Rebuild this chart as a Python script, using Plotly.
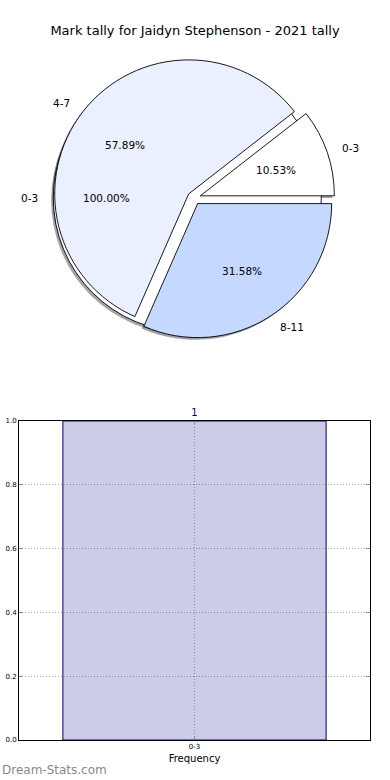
import math
import plotly.graph_objects as go

# ---------------- data ----------------
title_text = "Mark tally for Jaidyn Stephenson - 2021 tally"
total_labels = ["0-3"]
total_values = [1]
pie_labels = ["0-3", "4-7", "8-11"]
pie_values = [2, 11, 6]
pie_colors = ["#FFFFFF", "#EAF0FF", "#C5D9FF"]
total_colors = ["#FFFFFF"]
bar_categories = ["0-3"]
bar_values = [1]
y_ticks = [0.0, 0.2, 0.4, 0.6, 0.8, 1.0]
watermark = "Dream-Stats.com"

# ---------------- layout constants ----------------
W, H = 390, 780
CX, CY = 194, 198      # pie centre (px)
R = 134                # pie radius (px)
PULL = 0.05
SH = 2.2               # shadow offset (px)
FONT = "DejaVu Sans"


def pie_domain(dx=0.0, dy=0.0, pull=PULL):
    half = R * (1 + pull)
    cx, cy = CX + dx, CY + dy
    return dict(x=[(cx - half) / W, (cx + half) / W],
                y=[1 - (cy + half) / H, 1 - (cy - half) / H])


def shade(c):
    c = c.lstrip("#")
    r, g, b = (int(c[i:i + 2], 16) for i in (0, 2, 4))
    return "rgba(%d,%d,%d,0.5)" % (r * 0.3, g * 0.3, b * 0.3)


def start_rotation(values):
    # plotly: with counterclockwise direction the first slice ends at `rotation`;
    # make the first slice start at 3 o'clock like matplotlib's startangle=0
    rot = 90 - 360.0 * values[0] / sum(values)
    if rot <= -360:
        rot += 360
    return rot


fig = go.Figure()

common = dict(sort=False, direction="counterclockwise",
              textinfo="none", hoverinfo="skip", showlegend=False)

# shadows
fig.add_trace(go.Pie(labels=total_labels, values=total_values,
                     pull=[PULL] * len(total_values), rotation=start_rotation(total_values),
                     marker=dict(colors=[shade(c) for c in total_colors], line=dict(width=0)),
                     domain=pie_domain(-SH, SH), **common))
fig.add_trace(go.Pie(labels=pie_labels, values=pie_values,
                     pull=[PULL] * len(pie_values), rotation=start_rotation(pie_values),
                     marker=dict(colors=[shade(c) for c in pie_colors], line=dict(width=0)),
                     domain=pie_domain(-SH, SH), **common))
# pies
fig.add_trace(go.Pie(labels=total_labels, values=total_values,
                     pull=[PULL] * len(total_values), rotation=start_rotation(total_values),
                     marker=dict(colors=total_colors, line=dict(color="black", width=0.9)),
                     domain=pie_domain(), **common))
fig.add_trace(go.Pie(labels=pie_labels, values=pie_values,
                     pull=[PULL] * len(pie_values), rotation=start_rotation(pie_values),
                     marker=dict(colors=pie_colors, line=dict(color="black", width=0.9)),
                     domain=pie_domain(), **common))

annotations = []


def pie_texts(labels, values):
    tot = float(sum(values))
    start = 0.0
    for lab, v in zip(labels, values):
        frac = v / tot
        mid = math.radians((start + frac / 2) * 360)
        start += frac
        c, s = math.cos(mid), math.sin(mid)
        px = CX + (0.6 + PULL) * R * c
        py = CY - (0.6 + PULL) * R * s
        annotations.append(dict(x=px / W, y=1 - py / H, xref="paper", yref="paper",
                                text="%.2f%%" % (frac * 100), showarrow=False,
                                xanchor="center", yanchor="middle",
                                font=dict(family=FONT, size=10.5, color="black")))
        lx = CX + (1.1 + PULL) * R * c
        ly = CY - (1.1 + PULL) * R * s
        annotations.append(dict(x=lx / W, y=1 - ly / H, xref="paper", yref="paper",
                                text=lab, showarrow=False,
                                xanchor="left" if c > 0 else "right", yanchor="middle",
                                font=dict(family=FONT, size=10.5, color="black")))


pie_texts(total_labels, total_values)
pie_texts(pie_labels, pie_values)

# ---------------- bar chart ----------------
fig.add_trace(go.Bar(x=bar_categories, y=bar_values, width=0.75,
                     marker=dict(color="rgba(0,0,128,0.2)", line=dict(color="#000080", width=1)),
                     text=[str(v) for v in bar_values], textposition="outside",
                     textfont=dict(family=FONT, size=10, color="#000080"),
                     cliponaxis=False, hoverinfo="skip", showlegend=False,
                     xaxis="x", yaxis="y"))

annotations.append(dict(x=0.0, y=1 - 770 / H, xref="paper", yref="paper",
                        text=watermark, showarrow=False, xanchor="left", yanchor="middle",
                        font=dict(family=FONT, size=12, color="#8a8a8a")))

grid = dict(showgrid=True, gridcolor="#a8a8a8", griddash="1px,2px", gridwidth=1)

fig.update_layout(
    width=W, height=H,
    margin=dict(l=0, r=0, t=0, b=0),
    paper_bgcolor="white", plot_bgcolor="white",
    title=dict(text=title_text, x=0.5, xanchor="center", y=1 - 30 / H, yanchor="middle",
               font=dict(family=FONT, size=13, color="black")),
    font=dict(family=FONT, color="black"),
    annotations=annotations,
    xaxis=dict(domain=[19 / W, 370 / W], range=[-0.5, 0.5], type="category",
               showline=True, linecolor="black", linewidth=1, mirror="allticks",
               ticks="inside", ticklen=4, tickcolor="#888888",
               tickfont=dict(family=FONT, size=7, color="black"),
               title=dict(text="Frequency", standoff=4,
                          font=dict(family=FONT, size=10, color="black")),
               automargin=False, fixedrange=True, **grid),
    yaxis=dict(domain=[40 / H, 359 / H], range=[0, 1],
               tickvals=y_ticks, ticktext=["%.1f" % t for t in y_ticks],
               showline=True, linecolor="black", linewidth=1, mirror="allticks",
               ticks="inside", ticklen=4, tickcolor="#888888",
               zeroline=False,
               tickfont=dict(family=FONT, size=7, color="black"),
               automargin=False, fixedrange=True, **grid),
)

fig.write_html("out.html", config={"displayModeBar": False},
               post_script="document.body.style.margin='0px';document.body.style.overflow='hidden';")
